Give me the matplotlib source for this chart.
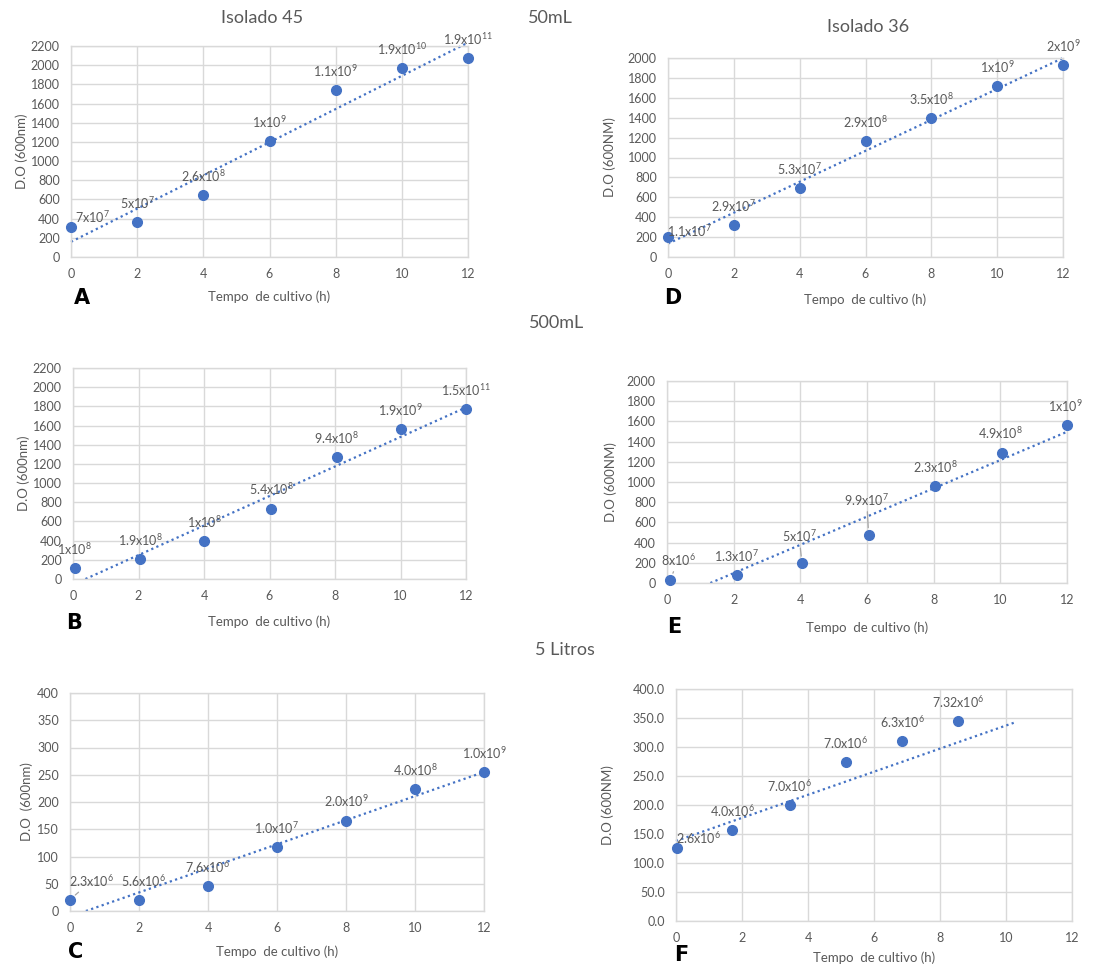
import matplotlib
matplotlib.use("Agg")
import matplotlib.pyplot as plt
import numpy as np

plt.rcParams.update({
    "font.family": ["Lato", "DejaVu Sans"],
    "mathtext.fontset": "custom",
    "mathtext.rm": "Lato",
    "mathtext.it": "Lato",
    "mathtext.bf": "Lato:bold",
})

GRAY = "#595959"
GRID = "#d9d9d9"
BLUE = "#4472C4"

# ---- data ----
# A: Isolado 45, 50mL
x_A = [0, 2, 4, 6, 8, 10, 12]
y_A = [315, 365, 645, 1207, 1740, 1972, 2078]
lab_A = ["7x10$^{7}$", "5x10$^{7}$", "2.6x10$^{8}$", "1x10$^{9}$",
         "1.1x10$^{9}$", "1.9x10$^{10}$", "1.9x10$^{11}$"]
trend_x_A = [0, 12]
trend_y_A = [158, 2235]

# D: Isolado 36, 50mL
x_D = [0, 2, 4, 6, 8, 10, 12]
y_D = [200, 325, 690, 1165, 1400, 1720, 1933]
lab_D = ["1.1x10$^{7}$", "2.9x10$^{7}$", "5.3x10$^{7}$", "2.9x10$^{8}$",
         "3.5x10$^{8}$", "1x10$^{9}$", "2x10$^{9}$"]
trend_x_D = [0, 12]
trend_y_D = [134, 2000]

# B: Isolado 45, 500mL
x_B = [0.05, 2.05, 4.0, 6.05, 8.05, 10.0, 12]
y_B = [115, 205, 397, 735, 1267, 1563, 1772]
lab_B = ["1x10$^{8}$", "1.9x10$^{8}$", "1x10$^{8}$", "5.4x10$^{8}$",
         "9.4x10$^{8}$", "1.9x10$^{9}$", "1.5x10$^{11}$"]
trend_x_B = [0.38, 12]
trend_y_B = [0, 1789]

# E: Isolado 36, 500mL
x_E = [0.1, 2.1, 4.05, 6.05, 8.05, 10.05, 12]
y_E = [33, 76, 198, 479, 959, 1283, 1560]
lab_E = ["8x10$^{6}$", "1.3x10$^{7}$", "5x10$^{7}$", "9.9x10$^{7}$",
         "2.3x10$^{8}$", "4.9x10$^{8}$", "1x10$^{9}$"]
trend_x_E = [1.3, 12]
trend_y_E = [0, 1497]

# C: Isolado 45, 5 Litros
x_C = [0.0, 2.0, 4.0, 6.0, 8.0, 10.0, 12]
y_C = [21, 21, 45, 118, 166, 223, 255]
lab_C = ["2.3x10$^{6}$", "5.6x10$^{6}$", "7.6x10$^{6}$", "1.0x10$^{7}$",
         "2.0x10$^{9}$", "4.0x10$^{8}$", "1.0x10$^{9}$"]
trend_x_C = [0.46, 12]
trend_y_C = [0, 255]

# F: Isolado 36, 5 Litros
x_F = [0.03, 1.7, 3.45, 5.15, 6.85, 8.55]
y_F = [126, 157, 200, 274, 311, 344]
lab_F = ["2.6x10$^{6}$", "4.0x10$^{6}$", "7.0x10$^{6}$", "7.0x10$^{6}$",
         "6.3x10$^{6}$", "7.32x10$^{6}$"]
trend_x_F = [0, 10.25]
trend_y_F = [138, 342]

W, H = 1111, 968
fig = plt.figure(figsize=(W / 100, H / 100), dpi=100)
fig.patch.set_facecolor("white")


def panel(box, x, y, labels, tx, ty, ymax, ystep, ylabel, letter,
          offsets, ylab_px, letter_px, xlab_y, leaders=(), yfmt="{:.0f}"):
    l, r, t, b = box
    ax = fig.add_axes([l / W, 1 - b / H, (r - l) / W, (b - t) / H])
    ax.set_xlim(0, 12)
    ax.set_ylim(0, ymax)
    ax.set_xticks(np.arange(0, 13, 2))
    yt = np.arange(0, ymax + ystep / 2, ystep)
    ax.set_yticks(yt)
    ax.set_yticklabels([yfmt.format(v) for v in yt])
    ax.grid(True, color=GRID, linewidth=1.0)
    ax.set_axisbelow(True)
    for s in ax.spines.values():
        s.set_color(GRID)
        s.set_linewidth(1.0)
    ax.tick_params(length=0, labelsize=9, colors=GRAY, pad=8)
    ax.plot(tx, ty, linestyle=(0, (1, 1.5)), color=BLUE, linewidth=1.6,
            clip_on=False, zorder=2)
    ax.plot(x, y, "o", color=BLUE, markersize=7, clip_on=False, zorder=3)
    for i, (xi, yi, lab) in enumerate(zip(x, y, labels)):
        dx, dy = offsets[i]
        kw = {}
        if i in leaders:
            kw["arrowprops"] = dict(arrowstyle="-", color="#a6a6a6", lw=0.9,
                                    shrinkA=1, shrinkB=5)
        ax.annotate(lab, (xi, yi), xytext=(dx, dy), textcoords="offset pixels",
                    ha="center", va="center", fontsize=9, color=GRAY,
                    annotation_clip=False, **kw)
    ax.set_ylabel(ylabel, fontsize=9.5, color=GRAY, va="center")
    ax.yaxis.set_label_coords((ylab_px - l) / (r - l), 0.5)
    ax.set_xlabel("Tempo  de cultivo (h)", fontsize=9.5, color=GRAY, va="center")
    ax.xaxis.set_label_coords(0.5, (b - xlab_y) / (b - t))
    lx, ly = letter_px
    fig.text(lx / W, 1 - ly / H, letter, fontsize=15, fontweight="bold",
             family="DejaVu Sans", color="black", ha="center", va="center")
    return ax


up = [(0, 19)] * 7

panel((71, 468, 46, 257), x_A, y_A, lab_A, trend_x_A, trend_y_A, 2200, 200,
      "D.O (600nm)", "A", [(21, 10)] + up[1:],
      ylab_px=22, letter_px=(82, 298), xlab_y=297)
panel((668, 1063, 58, 257), x_D, y_D, lab_D, trend_x_D, trend_y_D, 2000, 200,
      "D.O (600NM)", "D", [(22, 6)] + up[1:],
      ylab_px=610, letter_px=(673, 298), xlab_y=300)
panel((73, 466, 368, 579), x_B, y_B, lab_B, trend_x_B, trend_y_B, 2200, 200,
      "D.O (600nm)", "B", up,
      ylab_px=24, letter_px=(74, 623), xlab_y=622)
panel((667, 1067, 381, 583), x_E, y_E, lab_E, trend_x_E, trend_y_E, 2000, 200,
      "D.O (600NM)", "E",
      [(8, 20), (0, 19), (-3, 27), (-2, 35), (0, 19), (-2, 20), (-2, 19)],
      ylab_px=611, letter_px=(674, 627), xlab_y=628, leaders=(0, 2, 3))
panel((70, 484, 693, 911), x_C, y_C, lab_C, trend_x_C, trend_y_C, 400, 50,
      "D.O  (600nm)", "C", [(22, 19), (5, 19)] + up[2:],
      ylab_px=27, letter_px=(76, 952), xlab_y=952, leaders=(0,))
panel((676, 1072, 689, 921), x_F, y_F, lab_F, trend_x_F, trend_y_F, 400, 50,
      "D.O (600NM)", "F", [(22, 10)] + up[1:6],
      ylab_px=608, letter_px=(681, 955), xlab_y=958, yfmt="{:.1f}")

# section titles
fig.text(262 / W, 1 - 18 / H, "Isolado 45", fontsize=13, color=GRAY,
         ha="center", va="center")
fig.text(868 / W, 1 - 27 / H, "Isolado 36", fontsize=13, color=GRAY,
         ha="center", va="center")
fig.text(550 / W, 1 - 18 / H, "50mL", fontsize=13, color=GRAY,
         ha="center", va="center")
fig.text(557 / W, 1 - 323 / H, "500mL", fontsize=13, color=GRAY,
         ha="center", va="center")
fig.text(565 / W, 1 - 650 / H, "5 Litros", fontsize=13, color=GRAY,
         ha="center", va="center")

fig.savefig("out.png", dpi=100)
